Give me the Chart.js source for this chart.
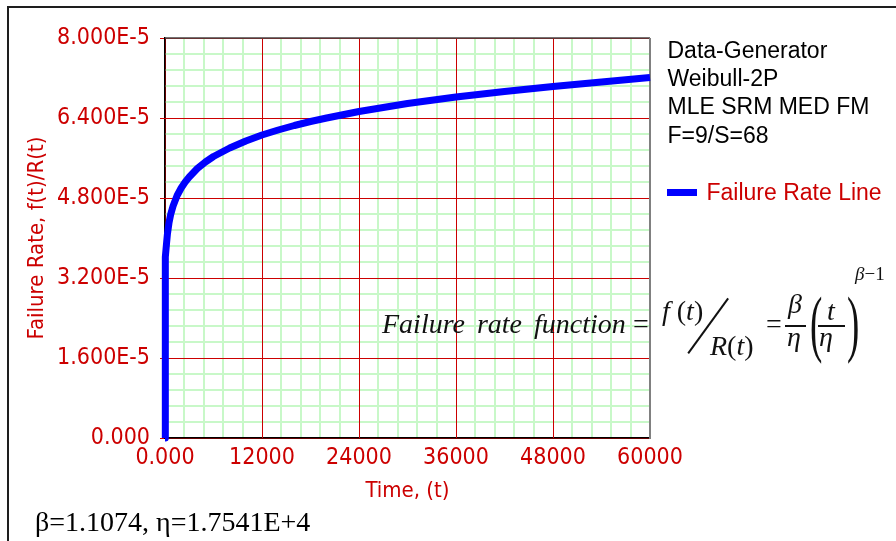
<!DOCTYPE html>
<html>
<head>
<meta charset="utf-8">
<title>Failure Rate vs Time</title>
<script src="https://cdn.jsdelivr.net/npm/chart.js@4.4.1/dist/chart.umd.min.js"></script>
<style>
  html, body { margin: 0; padding: 0; background: #fff; }
  #wrap { position: relative; width: 896px; height: 541px; overflow: hidden; }
  #chart { position: absolute; left: 0; top: 0; }
  .frame { position: absolute; left: 7px; top: 6px; width: 900px; height: 600px;
           border-left: 2px solid #1e1e1e; border-top: 2px solid #1e1e1e; }
  .t { position: absolute; white-space: nowrap; line-height: 1; }
  .sans { font-family: 'Liberation Sans', Arial, sans-serif; font-size: 23px; color: #000; }
  .serif { font-family: 'Liberation Serif', 'Times New Roman', serif; font-size: 28px; color: #111; }
  .i { font-style: italic; }
  .bar { position: absolute; height: 2px; background: #111; }
  .paren { font-size: 74px; transform: scaleX(0.5); transform-origin: 0 0; }
</style>
</head>
<body>
<div id="wrap">
  <div class="frame"></div>
  <canvas id="chart" width="896" height="541"></canvas>

  <!-- info block + legend -->
  <div class="t sans" style="left:667.5px;top:38.8px">Data-Generator</div>
  <div class="t sans" style="left:667.5px;top:67.2px">Weibull-2P</div>
  <div class="t sans" style="left:667.5px;top:94.8px">MLE SRM MED FM</div>
  <div class="t sans" style="left:667.5px;top:123.5px">F=9/S=68</div>
  <div style="position:absolute;left:667px;top:188.5px;width:30px;height:7px;background:#0000ff"></div>
  <div class="t sans" style="left:706.5px;top:180.5px;color:#cc0000">Failure Rate Line</div>

  <!-- failure rate formula -->
  <div class="t serif i" style="left:382px;top:309.5px;word-spacing:5px">Failure rate function</div>
  <div class="t serif" style="left:633px;top:309.5px">=</div>
  <div class="t serif" style="left:662px;top:296.5px"><span class="i">f</span> (<span class="i">t</span>)</div>
  <div style="position:absolute;left:674px;top:324.5px;width:68px;height:1.6px;background:#111;transform:rotate(-54deg)"></div>
  <div class="t serif" style="left:710px;top:331.5px"><span class="i">R</span>(<span class="i">t</span>)</div>
  <div class="t serif" style="left:766px;top:309.5px">=</div>
  <div class="t serif i" style="left:788px;top:289.5px">β</div>
  <div class="bar" style="left:785px;top:324.5px;width:21px"></div>
  <div class="t serif i" style="left:787px;top:322.5px">η</div>
  <div class="t serif paren" style="left:810px;top:286px">(</div>
  <div class="t serif i" style="left:827px;top:296.5px">t</div>
  <div class="bar" style="left:818px;top:324.5px;width:27px"></div>
  <div class="t serif i" style="left:819px;top:322.5px">η</div>
  <div class="t serif paren" style="left:847px;top:286px">)</div>
  <div class="t serif" style="left:855px;top:264px;font-size:19px"><span class="i">β</span>−1</div>

  <!-- fitted parameters -->
  <div class="t serif" style="left:35px;top:507.5px;font-size:28px;color:#000">β=1.1074, η=1.7541E+4</div>
</div>

<script>
// failure rate line (time, f(t)/R(t))
const timeValues = [0, 1, 10, 50, 100, 200, 300, 500, 700, 1000, 1500, 2000, 2500, 3000, 4000,
  5000, 6000, 8000, 10000, 12000, 14000, 16000, 18000, 20000, 24000, 30000, 36000, 42000,
  48000, 54000, 60000];
const rateValues = [0, 2.21e-5, 2.83e-5, 3.37e-5, 3.62e-5, 3.91e-5, 4.08e-5, 4.31e-5, 4.47e-5,
  4.64e-5, 4.85e-5, 5.00e-5, 5.12e-5, 5.22e-5, 5.39e-5, 5.52e-5, 5.63e-5, 5.80e-5, 5.94e-5,
  6.06e-5, 6.16e-5, 6.25e-5, 6.33e-5, 6.40e-5, 6.53e-5, 6.69e-5, 6.82e-5, 6.93e-5, 7.03e-5,
  7.12e-5, 7.21e-5];

// labelled grid lines; each gap is split into 5 light green cells
const xTickValues = [0, 12000, 24000, 36000, 48000, 60000];
const yTickValues = [0, 1.6e-5, 3.2e-5, 4.8e-5, 6.4e-5, 8.0e-5];
const MINOR_PER_MAJOR = 5;

const RED = '#cc0000';
const MAJOR_GRID = '#cc0000';
const MINOR_GRID = '#c8f8c8';
const TICK_FONT = "'DejaVu Sans Condensed', 'Liberation Sans', sans-serif";

function withMinorTicks(majors) {
  const out = [];
  majors.forEach((v, i) => {
    out.push({ value: v, isMajor: true });
    if (i < majors.length - 1) {
      const step = (majors[i + 1] - v) / MINOR_PER_MAJOR;
      for (let k = 1; k < MINOR_PER_MAJOR; k++) out.push({ value: v + step * k, isMajor: false });
    }
  });
  return out;
}

const isMajor = ctx => !!(ctx.tick && ctx.tick.isMajor);

function fmtY(v) {
  return v === 0 ? '0.000' : v.toExponential(3).toUpperCase();
}
function fmtX(v) {
  return v === 0 ? '0.000' : String(Math.round(v));
}

// red major lines go over the green cells, then the top/right edges of the box
const plotFrame = {
  id: 'plotFrame',
  beforeDatasetsDraw(chart) {
    const { ctx, chartArea: a, scales: { x, y } } = chart;
    ctx.save();
    ctx.lineWidth = 1;
    ctx.strokeStyle = MAJOR_GRID;
    ctx.beginPath();
    xTickValues.slice(1, -1).forEach(v => {
      const px = Math.round(x.getPixelForValue(v) - 0.5) + 0.5;
      ctx.moveTo(px, a.top);
      ctx.lineTo(px, a.bottom);
    });
    yTickValues.slice(1, -1).forEach(v => {
      const py = Math.round(y.getPixelForValue(v) - 0.5) + 0.5;
      ctx.moveTo(a.left - 5, py);
      ctx.lineTo(a.right, py);
    });
    ctx.stroke();

    ctx.lineWidth = 1.5;
    ctx.strokeStyle = '#444';
    ctx.beginPath();
    ctx.moveTo(a.left, a.top);
    ctx.lineTo(a.right, a.top);
    ctx.stroke();
    ctx.lineWidth = 2;
    ctx.strokeStyle = '#808080';
    ctx.beginPath();
    ctx.moveTo(a.right, a.top);
    ctx.lineTo(a.right, a.bottom + 1);
    ctx.stroke();
    ctx.restore();
  },
};

new Chart(document.getElementById('chart'), {
  type: 'line',
  data: {
    datasets: [{
      label: 'Failure Rate Line',
      data: timeValues.map((t, i) => ({ x: t, y: rateValues[i] })),
      borderColor: '#0000ff',
      borderWidth: 7,
      borderJoinStyle: 'round',
      pointRadius: 0,
      tension: 0,
      clip: false,
    }],
  },
  options: {
    responsive: false,
    animation: false,
    layout: { padding: { left: 10, top: 38, right: 246, bottom: 0 } },
    plugins: { legend: { display: false }, tooltip: { enabled: false } },
    scales: {
      x: {
        type: 'linear',
        min: 0, max: 60000,
        afterBuildTicks: s => { s.ticks = withMinorTicks(xTickValues); },
        afterFit: s => { s.height = 103; },
        grid: {
          color: ctx => isMajor(ctx) ? MAJOR_GRID : MINOR_GRID,
          lineWidth: ctx => isMajor(ctx) ? 1 : 2,
          drawTicks: false,
        },
        border: { color: '#000', width: 1.5 },
        ticks: {
          autoSkip: false,
          maxRotation: 0,
          padding: 6,
          color: RED,
          font: { family: TICK_FONT, size: 23 },
          callback: (v, i, ticks) => ticks[i].isMajor ? fmtX(v) : '',
        },
        title: {
          display: true,
          text: 'Time, (t)',
          color: RED,
          font: { family: TICK_FONT, size: 22 },
          padding: { top: 0, bottom: 37 },
        },
      },
      y: {
        type: 'linear',
        min: 0, max: 8.0e-5,
        afterBuildTicks: s => { s.ticks = withMinorTicks(yTickValues); },
        afterFit: s => { s.width = 155; },
        grid: {
          color: ctx => isMajor(ctx) ? MAJOR_GRID : MINOR_GRID,
          lineWidth: ctx => isMajor(ctx) ? 1 : 2,
          tickColor: ctx => isMajor(ctx) ? MAJOR_GRID : 'rgba(0,0,0,0)',
          tickLength: 5,
          tickWidth: 1,
        },
        border: { color: '#000', width: 1.5 },
        ticks: {
          autoSkip: false,
          padding: 10,
          color: RED,
          font: { family: TICK_FONT, size: 23 },
          callback: (v, i, ticks) => ticks[i].isMajor ? fmtY(v) : '',
        },
        title: {
          display: true,
          text: 'Failure Rate, f(t)/R(t)',
          color: RED,
          font: { family: TICK_FONT, size: 22 },
          padding: { top: 14, bottom: 0 },
        },
      },
    },
  },
  plugins: [plotFrame],
});
</script>
</body>
</html>
